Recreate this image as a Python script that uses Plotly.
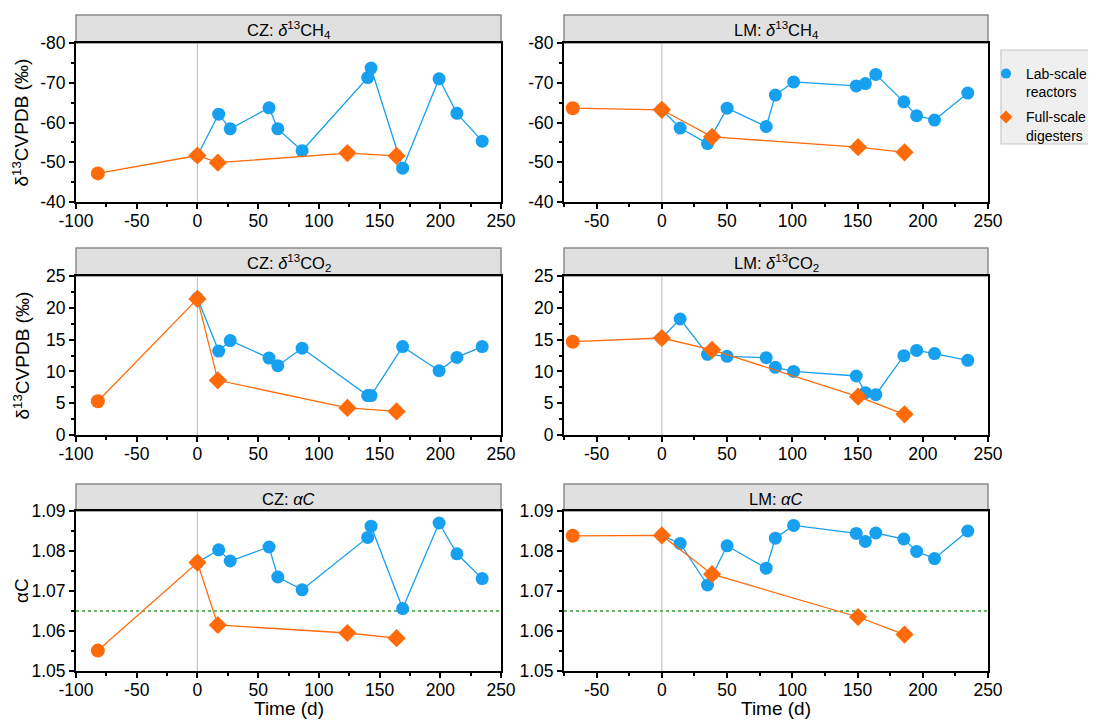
import plotly.graph_objects as go

# ---------------- data ----------------
cz_lab_t = [0, 17.5, 27, 59, 66.2, 86.2, 140.2, 143, 169, 199, 213.7, 234.5]
cz_lab_ch4 = [-51.7, -62.1, -58.4, -63.7, -58.4, -52.9, -71.3, -73.7, -48.5, -71.0, -62.3, -55.3]
cz_lab_co2 = [21.5, 13.2, 14.85, 12.1, 10.9, 13.65, 6.2, 6.2, 13.9, 10.1, 12.2, 13.9]
cz_lab_ac = [1.0771, 1.0803, 1.0775, 1.0810, 1.0735, 1.0703, 1.0834, 1.0862, 1.0656, 1.0870, 1.0793, 1.0731]

cz_full_t = [-82, 0, 16.8, 123.5, 164]
cz_full_ch4 = [-47.2, -51.7, -49.9, -52.3, -51.6]
cz_full_co2 = [5.3, 21.4, 8.6, 4.25, 3.7]
cz_full_ac = [1.0551, 1.0771, 1.0615, 1.0595, 1.0582]

lm_lab_t = [0, 14, 35, 50, 80, 87, 101, 149, 156, 164, 185.5, 195.3, 209, 234.5]
lm_lab_ch4 = [-63.2, -58.6, -54.7, -63.6, -59.0, -66.9, -70.2, -69.2, -69.8, -72.1, -65.2, -61.7, -60.6, -67.4]
lm_lab_co2 = [15.25, 18.24, 12.68, 12.37, 12.16, 10.64, 10.0, 9.28, 6.66, 6.34, 12.47, 13.3, 12.8, 11.74]
lm_lab_ac = [1.0839, 1.0819, 1.0715, 1.0813, 1.0757, 1.0832, 1.0864, 1.0844, 1.0824, 1.0845, 1.0830, 1.0799, 1.0781, 1.0850]

lm_full_t = [-68.3, 0, 38.5, 150.4, 186]
lm_full_ch4 = [-63.6, -63.2, -56.4, -53.8, -52.5]
lm_full_co2 = [14.67, 15.25, 13.4, 6.03, 3.25]
lm_full_ac = [1.0838, 1.0839, 1.0742, 1.0635, 1.0591]

alpha_threshold = 1.065

panel_titles = [
    "CZ: <i>δ</i><sup>13</sup>CH<sub>4</sub>", "LM: <i>δ</i><sup>13</sup>CH<sub>4</sub>",
    "CZ: <i>δ</i><sup>13</sup>CO<sub>2</sub>", "LM: <i>δ</i><sup>13</sup>CO<sub>2</sub>",
    "CZ: <i>αC</i>", "LM: <i>αC</i>",
]
series_names = ["Lab-scale<br>reactors", "Full-scale<br>digesters"]
x_title = "Time (d)"
y_titles = ["δ<sup>13</sup>CVPDB (‰)", "δ<sup>13</sup>CVPDB (‰)", "αC"]

x_left_ticks = [-100, -50, 0, 50, 100, 150, 200, 250]
x_left_labels = ["-100", "-50", "0", "50", "100", "150", "200", "250"]
x_right_ticks = [-50, 0, 50, 100, 150, 200, 250]
x_right_labels = ["-50", "0", "50", "100", "150", "200", "250"]
ch4_ticks = [-80, -70, -60, -50, -40]
ch4_labels = ["-80", "-70", "-60", "-50", "-40"]
co2_ticks = [0, 5, 10, 15, 20, 25]
co2_labels = ["0", "5", "10", "15", "20", "25"]
ac_ticks = [1.05, 1.06, 1.07, 1.08, 1.09]
ac_labels = ["1.05", "1.06", "1.07", "1.08", "1.09"]

# ---------------- style ----------------
# page body has an 8px margin, so the figure is drawn 8px in from the window corner
OFF = 8
W, H = 1096 - OFF, 720 - OFF
BLUE = "#17a0f0"
ORANGE = "#ff6a0a"
FONT = "Liberation Sans, Arial, sans-serif"

def px_x(p):
    return (p - OFF) / W

def px_y(p):
    return 1 - (p - OFF) / H

col_px = [(76, 501), (564, 988)]
row_px = [(43, 202), (276, 435), (511, 671)]
head_px = [15, 248, 484]

panels = [
    (0, 0, cz_lab_t, cz_lab_ch4, cz_full_t, cz_full_ch4),
    (0, 1, lm_lab_t, lm_lab_ch4, lm_full_t, lm_full_ch4),
    (1, 0, cz_lab_t, cz_lab_co2, cz_full_t, cz_full_co2),
    (1, 1, lm_lab_t, lm_lab_co2, lm_full_t, lm_full_co2),
    (2, 0, cz_lab_t, cz_lab_ac, cz_full_t, cz_full_ac),
    (2, 1, lm_lab_t, lm_lab_ac, lm_full_t, lm_full_ac),
]

fig = go.Figure()
layout = {}
shapes = []
annotations = []

for i, (r, c, lt, ly, ft, fy) in enumerate(panels):
    n = i + 1
    xa = "x" if n == 1 else f"x{n}"
    ya = "y" if n == 1 else f"y{n}"
    xkey = "xaxis" if n == 1 else f"xaxis{n}"
    ykey = "yaxis" if n == 1 else f"yaxis{n}"

    fig.add_trace(go.Scatter(
        x=lt, y=ly, mode="lines+markers", xaxis=xa, yaxis=ya,
        line=dict(color=BLUE, width=1.3),
        marker=dict(color=BLUE, size=13, symbol="circle", opacity=1),
        showlegend=False, cliponaxis=False,
    ))
    symbols = ["circle"] + ["diamond"] * (len(ft) - 1)
    fig.add_trace(go.Scatter(
        x=ft, y=fy, mode="lines+markers", xaxis=xa, yaxis=ya,
        line=dict(color=ORANGE, width=1.3),
        marker=dict(color=ORANGE, size=14, symbol=symbols, opacity=1),
        showlegend=False, cliponaxis=False,
    ))

    x0, x1 = col_px[c]
    yt, yb = row_px[r]
    if c == 0:
        xr, xtv, xtt = [-100, 250], x_left_ticks, x_left_labels
    else:
        xr, xtv, xtt = [-75, 250], x_right_ticks, x_right_labels
    if r == 0:
        yr, ytv, ytt, ymd = [-40, -80], ch4_ticks, ch4_labels, 5
    elif r == 1:
        yr, ytv, ytt, ymd = [0, 25], co2_ticks, co2_labels, 2.5
    else:
        yr, ytv, ytt, ymd = [1.05, 1.09], ac_ticks, ac_labels, 0.005

    axis_common = dict(
        showline=True, linecolor="black", linewidth=2, mirror=True,
        ticks="outside", ticklen=5, tickwidth=1.5, tickcolor="black",
        showgrid=False, zeroline=False, automargin=False,
        tickfont=dict(family=FONT, size=17.5, color="black"),
    )
    layout[xkey] = dict(
        axis_common, domain=[px_x(x0), px_x(x1)], range=xr,
        anchor=ya, tickmode="array", tickvals=xtv, ticktext=xtt,
        ticklabelstandoff=-3,
        minor=dict(dtick=25, ticks="outside", ticklen=3, tickwidth=1.5, tickcolor="black"),
    )
    layout[ykey] = dict(
        axis_common, domain=[px_y(yb), px_y(yt)], range=yr,
        anchor=xa, tickmode="array", tickvals=ytv, ticktext=ytt,
        minor=dict(dtick=ymd, tick0=ytv[0], ticks="outside", ticklen=3, tickwidth=1.5, tickcolor="black"),
    )

    if c == 0:
        annotations.append(dict(text=y_titles[r], xref="paper", yref="paper",
                                x=px_x(21), y=px_y((yt + yb) / 2), textangle=-90,
                                xanchor="center", yanchor="middle", showarrow=False,
                                font=dict(family=FONT, size=19, color="black")))
    if r == 2:
        annotations.append(dict(text=x_title, xref="paper", yref="paper",
                                x=px_x((x0 + x1) / 2), y=px_y(708),
                                xanchor="center", yanchor="middle", showarrow=False,
                                font=dict(family=FONT, size=19, color="black")))

    shapes.append(dict(type="line", xref=xa, yref=f"{ya} domain", x0=0, x1=0, y0=0, y1=1,
                       line=dict(color="#c4c4c4", width=1.2), layer="below"))
    if r == 2:
        shapes.append(dict(type="line", xref=f"{xa} domain", yref=ya, x0=0, x1=1,
                           y0=alpha_threshold, y1=alpha_threshold,
                           line=dict(color="#3a9e3a", width=1.6, dash="dot"), layer="below"))
    shapes.append(dict(type="rect", xref="paper", yref="paper",
                       x0=px_x(x0), x1=px_x(x1), y0=px_y(yt), y1=px_y(head_px[r]),
                       fillcolor="#e0e0e0", line=dict(color="#8a8a8a", width=1.5), layer="below"))
    annotations.append(dict(text=panel_titles[i], xref="paper", yref="paper",
                            x=px_x((x0 + x1) / 2), y=px_y((head_px[r] + yt) / 2 + 1),
                            xanchor="center", yanchor="middle", showarrow=False,
                            font=dict(family=FONT, size=16.5, color="black")))

# legend entries
fig.add_trace(go.Scatter(x=[None], y=[None], mode="markers", name=series_names[0],
                         legendgroup="lab",
                         marker=dict(color=BLUE, size=10, symbol="circle")))
fig.add_trace(go.Scatter(x=[None], y=[None], mode="markers", name=series_names[1],
                         legendgroup="full",
                         marker=dict(color=ORANGE, size=10, symbol="diamond")))

shapes.append(dict(type="rect", xref="paper", yref="paper",
                   x0=px_x(1001), x1=px_x(1100), y0=px_y(144), y1=px_y(50),
                   fillcolor="#efefef", line=dict(color="#c8c8c8", width=1.2), layer="below"))

fig.update_layout(
    width=W, height=H,
    margin=dict(l=0, r=0, t=0, b=0, autoexpand=False),
    paper_bgcolor="white", plot_bgcolor="white",
    font=dict(family=FONT, size=15, color="black"),
    showlegend=True,
    legend=dict(x=px_x(986), y=px_y(58), xanchor="left", yanchor="top",
                bgcolor="rgba(0,0,0,0)", borderwidth=0, valign="top",
                font=dict(family=FONT, size=14, color="black"),
                itemwidth=30, tracegroupgap=4),
    shapes=shapes, annotations=annotations,
    **layout,
)

fig.write_html("out.html")
